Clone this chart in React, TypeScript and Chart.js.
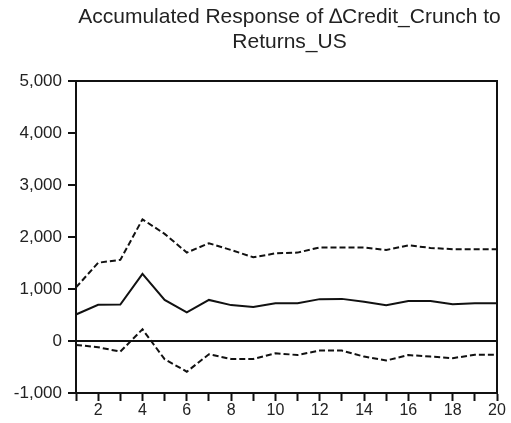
import React, { useEffect, useRef } from "react";
import { Chart, registerables } from "chart.js";

Chart.register(...registerables);

// Horizon (periods)
const periods: string[] = Array.from({ length: 20 }, (_, i) => String(i + 1));

// Accumulated response and ±2 S.E. bands
const response: number[] = [510, 695, 700, 1290, 790, 550, 790, 690, 655, 725, 725, 805, 810, 755, 690, 770, 770, 705, 725, 725];
const upperBand: number[] = [1030, 1505, 1560, 2340, 2060, 1700, 1880, 1750, 1610, 1685, 1700, 1800, 1800, 1800, 1750, 1840, 1790, 1765, 1765, 1765];
const lowerBand: number[] = [-75, -120, -205, 225, -350, -590, -255, -345, -345, -235, -270, -185, -185, -300, -375, -270, -300, -330, -265, -265];

const titleLines: string[] = ["Accumulated Response of \u2206Credit_Crunch to", "Returns_US"];

const INK = "#111";
const FONT = "'Liberation Sans', Arial, sans-serif";

// Draws the two-line title centred over the plot and the frame round it
const framePlugin = {
  id: "frameAndTitle",
  afterDraw(chart: Chart) {
    const { ctx, chartArea } = chart;
    const cx = (chartArea.left + chartArea.right) / 2 + 3;
    ctx.save();
    ctx.fillStyle = "#222";
    ctx.font = `21px ${FONT}`;
    ctx.textAlign = "center";
    ctx.textBaseline = "alphabetic";
    ctx.fillText(titleLines[0], cx, 23);
    ctx.fillText(titleLines[1], cx, 48);
    ctx.strokeStyle = INK;
    ctx.lineWidth = 2;
    ctx.strokeRect(chartArea.left, chartArea.top, chartArea.right - chartArea.left, chartArea.bottom - chartArea.top);
    ctx.restore();
  },
};

export default function App() {
  const canvasRef = useRef<HTMLCanvasElement | null>(null);

  useEffect(() => {
    if (!canvasRef.current) return;
    const chart = new Chart(canvasRef.current, {
      type: "line",
      data: {
        labels: periods,
        datasets: [
          {
            label: "Upper",
            data: upperBand,
            borderColor: INK,
            borderWidth: 2,
            borderDash: [6, 3],
            pointRadius: 0,
            tension: 0,
            fill: false,
          },
          {
            label: "Response",
            data: response,
            borderColor: INK,
            borderWidth: 2,
            pointRadius: 0,
            tension: 0,
            fill: false,
          },
          {
            label: "Lower",
            data: lowerBand,
            borderColor: INK,
            borderWidth: 2,
            borderDash: [6, 3],
            pointRadius: 0,
            tension: 0,
            fill: false,
          },
        ],
      },
      options: {
        responsive: false,
        animation: false,
        layout: { padding: { left: 0, right: 14, top: 81, bottom: 0 } },
        plugins: {
          legend: { display: false },
          title: { display: false },
          tooltip: { enabled: false },
        },
        scales: {
          x: {
            type: "category",
            offset: false,
            afterFit: (s: any) => {
              s.height = 30;
            },
            grid: {
              display: true,
              drawOnChartArea: false,
              drawTicks: true,
              tickLength: 8,
              tickColor: INK,
              tickWidth: 2,
            },
            border: { display: true, color: INK, width: 2 },
            ticks: {
              autoSkip: false,
              maxRotation: 0,
              padding: 0,
              color: "#222",
              font: { family: FONT, size: 16 },
              callback: (_v: any, i: number) => ((i + 1) % 2 === 0 ? periods[i] : ""),
            },
          },
          y: {
            min: -1000,
            max: 5000,
            afterFit: (s: any) => {
              s.width = 76;
            },
            grid: {
              display: true,
              color: (c: any) => (c.tick && c.tick.value === 0 ? INK : "rgba(0,0,0,0)"),
              lineWidth: 2,
              drawTicks: true,
              tickLength: 8,
              tickColor: INK,
              tickWidth: 2,
            },
            border: { display: true, color: INK, width: 2 },
            ticks: {
              stepSize: 1000,
              padding: 6,
              color: "#222",
              font: { family: FONT, size: 17 },
              callback: (v: any) => Number(v).toLocaleString("en-US"),
            },
          },
        },
      },
      plugins: [framePlugin],
    });
    return () => chart.destroy();
  }, []);

  return (
    <div style={{ position: "absolute", left: 0, top: 0, width: 511, height: 423, background: "#fff" }}>
      <canvas ref={canvasRef} width={511} height={423} />
    </div>
  );
}
